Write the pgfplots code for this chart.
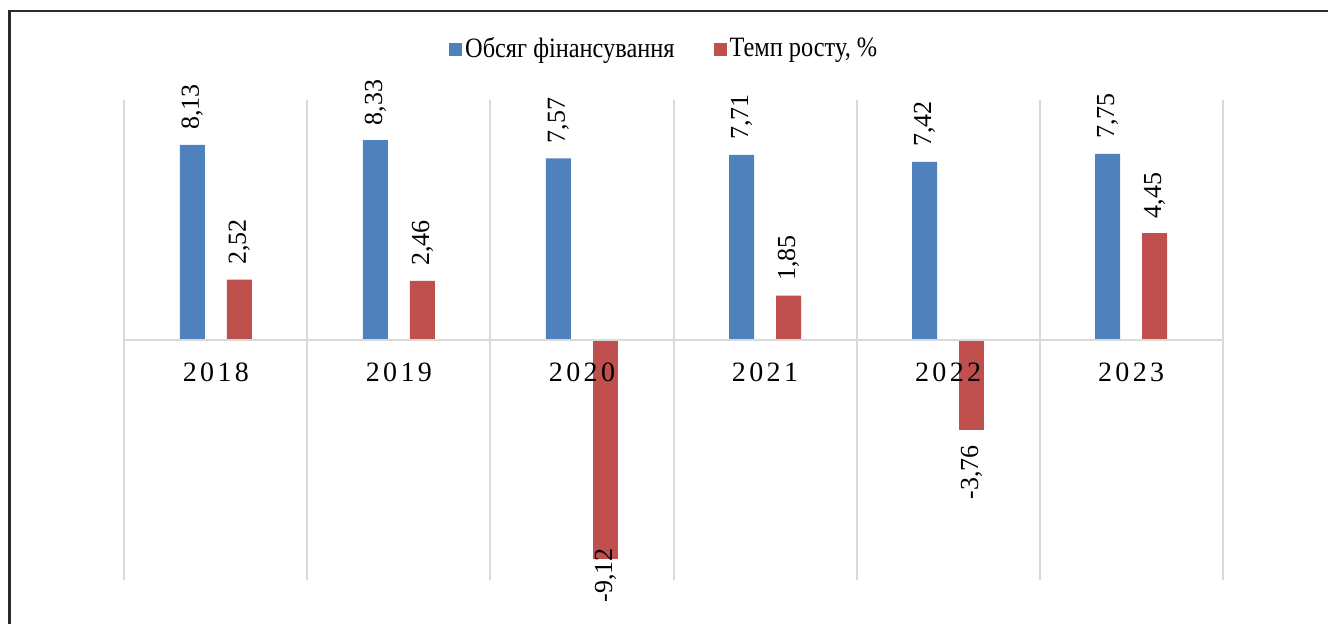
\documentclass[border=0pt]{standalone}
\usepackage{fontspec}
\setmainfont{Liberation Serif}
\newfontfamily\legfont{Liberation Serif}[FakeStretch=0.87]
\newfontfamily\yearfont{Liberation Serif}[LetterSpace=12]
\usepackage{pgfplots}
\pgfplotsset{compat=1.18}
\definecolor{serblue}{HTML}{4F81BD}
\definecolor{serred}{HTML}{C0504D}
\definecolor{gridgray}{HTML}{D9D9D9}
\definecolor{framegray}{HTML}{2B2B2B}
\begin{document}
\begin{tikzpicture}
\useasboundingbox (0,0) rectangle (664pt,312pt);
% outer frame: only left and top edges fall inside the picture
\draw[framegray, line width=1.25pt] (4.75pt,-5pt) -- (4.75pt,306.4pt) -- (670pt,306.4pt);
\begin{axis}[
  at={(62.15pt,22pt)}, anchor=south west,
  scale only axis, width=549.2pt, height=240pt,
  ybar, bar width=12.5pt,
  xmin=-0.5, xmax=5.5, ymin=-10, ymax=10,
  enlargelimits=false, clip=false, axis on top,
  axis x line=middle, axis y line=none,
  axis line style={gridgray, line width=1pt, -},
  hide obscured x ticks=false,
  xtick={0,...,5}, xticklabels={2018,2019,2020,2021,2022,2023},
  minor xtick={-0.5,0.5,...,5.5},
  xminorgrids=true, minor grid style={gridgray, line width=1pt},
  major tick length=0pt, minor tick length=0pt,
  xticklabel style={font=\fontsize{14}{16}\yearfont, anchor=north, inner sep=0pt, yshift=-11pt},
  nodes near coords={\pgfmathprintnumber[fixed,fixed zerofill,precision=2,use comma,assume math mode=true]{\pgfplotspointmeta}},
  every node near coord/.append style={font=\fontsize{13}{15}\selectfont, black, rotate=90, inner sep=0pt, anchor=west, outer xsep=7.5pt},
  legend style={at={(0.492,1.106)}, anchor=center, draw=none, legend columns=2,
    font=\fontsize{14}{16}\legfont, nodes={inner xsep=1.5pt},
    /tikz/every even column/.append style={column sep=18pt}},
  legend image code/.code={\fill[#1] (0pt,-3.25pt) rectangle (6.5pt,3.25pt);},
]
\addplot[fill=serblue, draw=none, bar shift=-11.75pt] coordinates {
  (0,8.13) (1,8.33) (2,7.57) (3,7.71) (4,7.42) (5,7.75)};
\addlegendentry{Обсяг фінансування}
\addplot[fill=serred, draw=none, bar shift=11.75pt] coordinates {
  (0,2.52) (1,2.46) (3,1.85) (5,4.45)};
\addlegendentry{Темп росту, \%}
\addplot[forget plot, fill=serred, draw=none, bar shift=11.75pt,
  every node near coord/.append style={anchor=east}] coordinates {(4,-3.76)};
\addplot[forget plot, fill=serred, draw=none, bar shift=11.75pt,
  every node near coord/.append style={anchor=east, outer xsep=-5.35pt}] coordinates {(2,-9.12)};
\end{axis}
\end{tikzpicture}
\end{document}
